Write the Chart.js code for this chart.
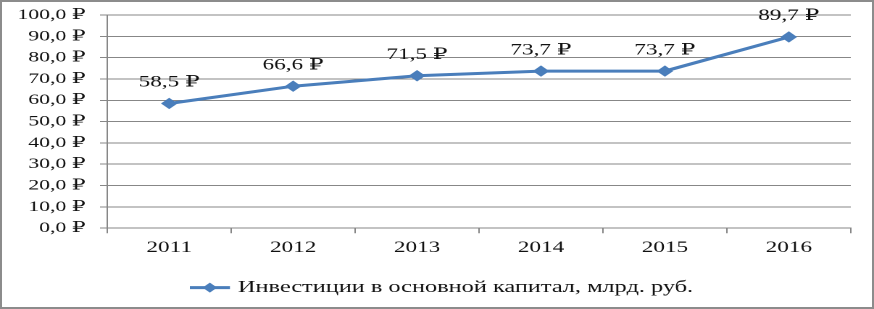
<!DOCTYPE html>
<html><head><meta charset="utf-8">
<script src="https://cdn.jsdelivr.net/npm/chart.js@4"></script>
<style>
html,body{margin:0;padding:0;background:#fff;overflow:hidden}
#wrap{position:relative;width:874px;height:309px;overflow:hidden;background:#fff}
#box{position:absolute;left:0;top:0;width:603px;height:309px;transform-origin:0 0;transform:scaleX(1.4494)}
#frame{position:absolute;left:0;top:0;width:874px;height:309px;box-sizing:border-box;border:2px solid #8c8c8c;pointer-events:none}
</style></head><body>
<div id="wrap"><div id="box"><canvas id="c"></canvas></div><div id="frame"></div></div>
<script>
const categories = ['2011', '2012', '2013', '2014', '2015', '2016'];
const investments = [58.5, 66.6, 71.5, 73.7, 73.7, 89.7];
const seriesName = 'Инвестиции в основной капитал, млрд. руб.';
const yMin = 0, yMax = 100, yStep = 10;

const LINE = '#4A7EBB';
const GRID = '#878787';
const TEXT = '#111';
const SERIF = '"Liberation Serif", "DejaVu Serif", serif';

Chart.defaults.font.family = SERIF;
Chart.defaults.color = TEXT;

function fmt(v) { return v.toFixed(1).replace('.', ',') + ' ₽'; }

const svg = '<svg xmlns="http://www.w3.org/2000/svg" width="28" height="12" viewBox="0 0 28 12">' +
  '<line x1="0" y1="6" x2="28" y2="6" stroke="' + LINE + '" stroke-width="3"/>' +
  '<polygon points="14,1 19,6 14,11 9,6" fill="' + LINE + '"/></svg>';
const legendImg = new Image(28, 12);

const dataLabels = {
  id: 'dataLabels',
  afterDatasetsDraw(chart) {
    const ctx = chart.ctx;
    const meta = chart.getDatasetMeta(0);
    ctx.save();
    ctx.font = '16px ' + SERIF;
    ctx.fillStyle = TEXT;
    ctx.textAlign = 'center';
    ctx.textBaseline = 'middle';
    meta.data.forEach((pt, i) => {
      ctx.fillText(fmt(investments[i]), pt.x, pt.y - 21);
    });
    ctx.restore();
  }
};

function draw() {
  new Chart(document.getElementById('c'), {
    type: 'line',
    data: {
      labels: categories,
      datasets: [{
        label: seriesName,
        data: investments,
        borderColor: LINE,
        backgroundColor: LINE,
        borderWidth: 3,
        tension: 0,
        pointStyle: 'rectRot',
        pointRadius: 5,
        pointBackgroundColor: LINE,
        pointBorderColor: LINE,
        pointBorderWidth: 1,
        clip: false,
        yAxisID: 'y'
      }]
    },
    options: {
      responsive: true,
      maintainAspectRatio: false,
      animation: false,
      devicePixelRatio: 2,
      layout: { padding: { left: 9, right: 0, top: 15, bottom: 3 } },
      plugins: {
        tooltip: { enabled: false },
        legend: {
          display: true,
          position: 'bottom',
          labels: {
            usePointStyle: true,
            pointStyleWidth: 22,
            padding: 4,
            color: TEXT,
            font: { family: SERIF, size: 16.8 },
            generateLabels: () => [{
              text: seriesName, pointStyle: legendImg, fillStyle: LINE,
              strokeStyle: LINE, lineWidth: 0, hidden: false, datasetIndex: 0,
              fontColor: TEXT
            }]
          }
        }
      },
      scales: {
        x: {
          offset: true,
          afterFit: s => { s.height = 47; s.paddingLeft = 0; s.paddingRight = 0; },
          grid: { drawOnChartArea: false, drawTicks: true, tickLength: 5, color: GRID, offset: true },
          border: { display: true, color: GRID },
          ticks: { color: TEXT, font: { family: SERIF, size: 16 }, padding: 5, maxRotation: 0 }
        },
        y: {
          position: 'left',
          min: yMin, max: yMax,
          afterFit: s => { s.width = 65; s.paddingTop = 0; s.paddingBottom = 0; },
          grid: { drawOnChartArea: true, drawTicks: true, tickLength: 5, color: GRID },
          border: { display: true, color: GRID },
          ticks: { stepSize: yStep, color: TEXT, font: { family: SERIF, size: 15 }, padding: 10, callback: v => fmt(v) }
        },
        yRightSpace: {
          position: 'right',
          display: true,
          afterFit: s => { s.width = 16; s.paddingTop = 0; s.paddingBottom = 0; },
          grid: { display: false, drawTicks: false },
          border: { display: false },
          ticks: { display: false }
        }
      }
    },
    plugins: [dataLabels]
  });
}
legendImg.onload = draw;
legendImg.onerror = draw;
legendImg.src = 'data:image/svg+xml,' + encodeURIComponent(svg);
</script>
</body></html>
